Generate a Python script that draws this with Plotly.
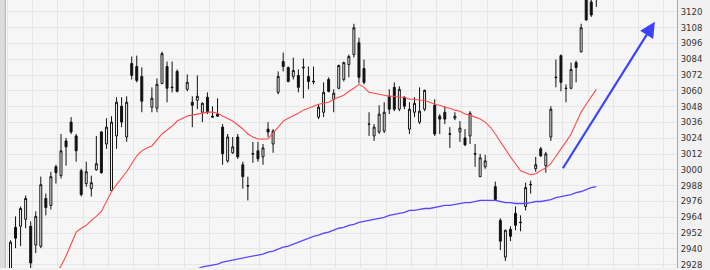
import plotly.graph_objects as go

# candle index (gaps where no candle is drawn)
day = list(range(0, 27)) + list(range(28, 34)) + list(range(35, 83)) + list(range(84, 95)) + list(range(96, 117))

open_ = [2921.7, 2956.4, 2957.2, 2962.5, 2957.2, 2942.9, 2942.1, 2978.3, 2973.0, 3002.4,
         2995.6, 3022.0, 3036.3, 3025.8, 2999.4, 2989.6, 2985.8, 3000.1, 3028.8, 3019.7,
         2984.3, 3025.8, 3048.4, 3025.0, 3080.8, 3078.5, 3071.0,
         3047.6, 3046.9, 3065.7, 3078.5, 3062.9, 3074.8,
         3061.2, 3051.4, 3052.9, 3043.8, 3055.2, 3040.8, 3042.4, 3032.5, 3006.9, 3013.0,
         3025.0, 3003.9, 2988.1, 3012.4, 3014.5, 3009.9, 3031.0, 3019.7, 3058.9, 3082.3,
         3077.8, 3071.0, 3071.8, 3078.0, 3071.0, 3067.4, 3040.1, 3043.8, 3068.7, 3053.7,
         3062.0, 3068.7, 3080.0, 3087.6, 3096.6, 3077.0, 3034.9, 3025.8, 3028.8, 3029.5,
         3055.9, 3062.7, 3046.1, 3055.2, 3031.0, 3043.8, 3036.3, 3046.1,
         3049.1, 3040.8, 3043.8, 3027.5, 3039.3, 3028.8, 3024.3, 3025.8, 3012.4, 2994.9, 3002.4,
         2987.3, 2961.7, 2933.8, 2954.9, 2967.0, 2960.4, 2972.2, 2988.6, 3000.9, 3016.0,
         3003.2, 3025.0, 3070.5, 3086.8, 3062.2, 3062.0, 3081.5, 3089.8, 3132.8, 3127.5, 3130.6]
high = [2946.6, 2964.7, 2972.2, 2980.5, 2960.9, 2968.5, 2994.9, 2982.0, 2998.6, 3003.9,
        3027.3, 3024.3, 3040.1, 3027.3, 3000.9, 3006.2, 2995.6, 3025.8, 3029.5, 3039.3,
        3040.8, 3055.2, 3055.2, 3055.9, 3086.1, 3086.8, 3077.8,
        3062.7, 3069.5, 3089.8, 3082.3, 3082.3, 3076.3,
        3072.5, 3055.9, 3071.8, 3051.4, 3058.9, 3048.4, 3054.4, 3034.8, 3027.3, 3025.0,
        3027.3, 3006.2, 2994.9, 3021.3, 3021.3, 3019.7, 3036.3, 3031.0, 3074.8, 3089.1,
        3078.5, 3085.3, 3076.3, 3084.6, 3078.5, 3078.5, 3049.9, 3066.5, 3070.3, 3061.2,
        3080.0, 3082.3, 3087.6, 3111.0, 3100.4, 3083.8, 3043.8, 3034.8, 3049.1, 3051.4,
        3061.2, 3066.5, 3063.5, 3055.9, 3051.4, 3055.2, 3062.7, 3061.0,
        3053.7, 3042.4, 3048.4, 3032.5, 3043.8, 3037.1, 3031.0, 3044.6, 3019.7, 3012.2, 3011.5,
        2991.1, 2963.2, 2954.5, 2957.2, 2972.2, 2965.5, 2990.3, 2991.8, 3009.9, 3017.5,
        3013.7, 3048.4, 3083.8, 3087.6, 3065.0, 3081.5, 3083.0, 3111.0, 3135.0, 3131.3, 3144.0]
low = [2918.0, 2940.6, 2942.1, 2955.7, 2921.7, 2936.8, 2940.6, 2965.5, 2970.0, 2989.6,
       2993.4, 3003.2, 3027.3, 3006.2, 2979.8, 2987.3, 2979.8, 2999.4, 2997.1, 3016.0,
       2983.6, 3016.0, 3032.5, 3021.3, 3068.7, 3066.5, 3043.8,
       3043.8, 3043.8, 3065.0, 3051.4, 3058.9, 3058.9,
       3059.7, 3032.5, 3046.1, 3036.3, 3042.4, 3040.1, 3040.5, 3003.9, 3005.4, 3012.2,
       3008.4, 2985.8, 2976.8, 3005.4, 3006.2, 3003.9, 3025.0, 3013.0, 3057.4, 3074.8,
       3066.5, 3068.7, 3058.9, 3054.4, 3061.2, 3065.0, 3038.6, 3040.1, 3058.9, 3043.8,
       3061.2, 3067.2, 3070.3, 3085.3, 3065.7, 3065.0, 3025.8, 3022.0, 3027.3, 3028.0,
       3042.4, 3044.6, 3044.6, 3046.1, 3027.3, 3040.1, 3034.8, 3044.6,
       3025.8, 3027.3, 3034.8, 3016.7, 3037.8, 3021.3, 3018.2, 3019.7, 3002.4, 2994.5, 3000.9,
       2976.8, 2939.1, 2930.8, 2945.9, 2954.2, 2953.4, 2969.2, 2982.0, 2998.6, 3009.9,
       2997.9, 3022.0, 3062.7, 3059.7, 3051.4, 3061.2, 3066.5, 3089.1, 3113.2, 3116.2, 3123.8]
close = [2945.1, 2948.1, 2970.7, 2978.3, 2929.3, 2964.7, 2988.8, 2971.5, 2994.9, 2997.9,
         3014.5, 3017.5, 3028.8, 3014.5, 2981.3, 2998.6, 2990.3, 3004.7, 2997.9, 3032.5,
         3036.3, 3051.4, 3036.3, 3051.4, 3071.8, 3068.0, 3052.2,
         3054.4, 3065.0, 3088.3, 3062.0, 3062.5, 3059.7,
         3066.5, 3049.1, 3055.9, 3050.6, 3043.8, 3040.1, 3040.8, 3012.2, 3025.0, 3017.5,
         3009.9, 2994.9, 2987.8, 3012.0, 3008.4, 3016.7, 3028.8, 3029.5, 3071.0, 3078.5,
         3067.2, 3075.5, 3062.7, 3077.6, 3067.2, 3067.0, 3047.6, 3058.9, 3059.7, 3058.2,
         3079.3, 3081.5, 3086.1, 3108.0, 3070.3, 3066.5, 3034.6, 3032.5, 3042.4, 3043.8,
         3046.1, 3046.1, 3061.2, 3048.4, 3046.1, 3050.6, 3044.6, 3060.4,
         3027.3, 3038.6, 3038.6, 3027.1, 3040.8, 3031.8, 3019.0, 3043.1, 3012.0, 3009.2, 3006.9,
         2977.5, 2945.9, 2954.2, 2949.6, 2957.9, 2960.0, 2986.6, 2989.0, 3003.9, 3010.7,
         3012.2, 3046.1, 3070.1, 3066.5, 3061.8, 3076.3, 3077.8, 3108.0, 3114.0, 3117.7, 3140.0]

# short moving average (red)
ma_short_day = list(range(9, 117))
ma_short = [2921.7, 2927.0, 2934.6, 2943.6, 2952.7, 2955.7, 2957.9, 2961.7, 2964.7, 2968.5,
            2976.0, 2983.6, 2988.8, 2993.4, 2998.6, 3004.7, 3010.7, 3014.5, 3016.7, 3018.2,
            3022.8, 3027.3, 3030.3, 3033.3, 3037.1, 3039.3, 3040.9, 3041.6, 3042.4, 3043.1,
            3043.9, 3043.9, 3043.1, 3040.9, 3039.3, 3037.1, 3034.1, 3031.1, 3027.3, 3025.0,
            3023.5, 3023.5, 3023.5, 3028.0, 3032.6, 3037.1, 3039.3, 3040.9, 3043.1, 3045.4,
            3046.9, 3048.4, 3049.9, 3050.6, 3051.4, 3053.7, 3055.2, 3056.7, 3059.7, 3062.0,
            3065.0, 3062.7, 3058.9, 3058.2, 3057.4, 3056.7, 3055.9, 3055.9, 3055.2, 3055.2,
            3053.7, 3053.7, 3052.9, 3052.9, 3051.4, 3049.9, 3049.1, 3047.6, 3046.9, 3045.4,
            3044.6, 3042.4, 3041.6, 3040.1, 3038.6, 3036.3, 3032.6, 3027.3, 3021.3, 3015.2,
            3009.9, 3004.7, 2999.4, 2997.9, 2996.4, 2997.1, 2999.4, 3001.7, 3004.7, 3009.9,
            3016.0, 3021.3, 3027.3, 3035.6, 3043.9, 3049.9, 3055.9, 3061.2]

# long moving average (blue)
ma_long_day = list(range(36, 117))
ma_long = [2924.0, 2924.7, 2926.3, 2927.0, 2927.8, 2928.5, 2930.0, 2930.8, 2931.5, 2932.3,
           2933.1, 2933.8, 2934.6, 2935.3, 2936.1, 2937.6, 2938.3, 2939.8, 2941.4, 2942.1,
           2943.6, 2945.1, 2946.6, 2948.1, 2949.6, 2950.4, 2951.9, 2952.7, 2954.2, 2955.7,
           2956.4, 2957.9, 2958.7, 2960.2, 2960.9, 2961.7, 2962.4, 2963.2, 2964.0, 2965.5,
           2966.2, 2967.0, 2967.7, 2969.2, 2969.2, 2970.0, 2970.7, 2970.7, 2971.5, 2972.2,
           2973.0, 2973.0, 2973.8, 2974.5, 2975.2, 2975.2, 2976.0, 2976.8, 2976.8, 2976.8,
           2976.8, 2976.0, 2975.2, 2975.2, 2974.5, 2974.5, 2974.5, 2975.2, 2976.0, 2976.0,
           2976.8, 2977.5, 2979.0, 2979.8, 2980.5, 2981.3, 2982.8, 2983.6, 2985.1, 2986.6,
           2987.3]

# trend arrow (tail -> head)
arrow_from = (109.2, 3000.1)
arrow_to = (127.6, 3112.5)

fig = go.Figure()
fig.add_trace(go.Candlestick(
    x=day, open=open_, high=high, low=low, close=close,
    increasing=dict(line=dict(color="#111111", width=1), fillcolor="#ffffff"),
    decreasing=dict(line=dict(color="#111111", width=1), fillcolor="#111111"),
    whiskerwidth=0, showlegend=False, hoverinfo="skip"))
fig.add_trace(go.Scatter(x=ma_short_day, y=ma_short, mode="lines",
                         line=dict(color="#ff4a4a", width=1.1), showlegend=False, hoverinfo="skip"))
fig.add_trace(go.Scatter(x=ma_long_day, y=ma_long, mode="lines",
                         line=dict(color="#5a46ff", width=1.3), showlegend=False, hoverinfo="skip"))

fig.add_annotation(x=arrow_to[0], y=arrow_to[1], ax=arrow_from[0], ay=arrow_from[1],
                   xref="x", yref="y", axref="x", ayref="y", text="", showarrow=True,
                   arrowhead=2, arrowsize=1.4, arrowwidth=2.2, arrowcolor="#3c42ff")

W = 671.0
fig.add_shape(type="rect", xref="paper", yref="paper", x0=-6 / W, x1=-1.5 / W, y0=0, y1=1,
              fillcolor="#dcdcdc", line=dict(width=0), layer="above")
fig.add_shape(type="rect", xref="paper", yref="paper", x0=-1.5 / W, x1=0, y0=0, y1=1,
              fillcolor="#bdbdbd", line=dict(width=0), layer="above")

fig.update_layout(
    width=710, height=270,
    margin=dict(l=6, r=33, t=0, b=0),
    paper_bgcolor="#f1f1f1", plot_bgcolor="#f6f6f6",
    boxgap=0.45,
    xaxis=dict(range=[-0.89, 131.98], rangeslider=dict(visible=False), showticklabels=False,
               tick0=4.4, dtick=5, showgrid=True, gridcolor="#e6e6e6", gridwidth=1,
               zeroline=False, ticks="", fixedrange=True),
    yaxis=dict(range=[2925.5, 3129.05], side="right", tick0=0, dtick=12, showgrid=True,
               gridcolor="#e6e6e6", gridwidth=1, zeroline=False, ticks="",
               showline=True, linecolor="#a8a8a8", linewidth=1,
               tickfont=dict(family="DejaVu Sans", size=8.5, color="#333333"),
               ticklabelstandoff=1, ticklabeloverflow="allow", fixedrange=True),
)

fig.write_html("out.html")
